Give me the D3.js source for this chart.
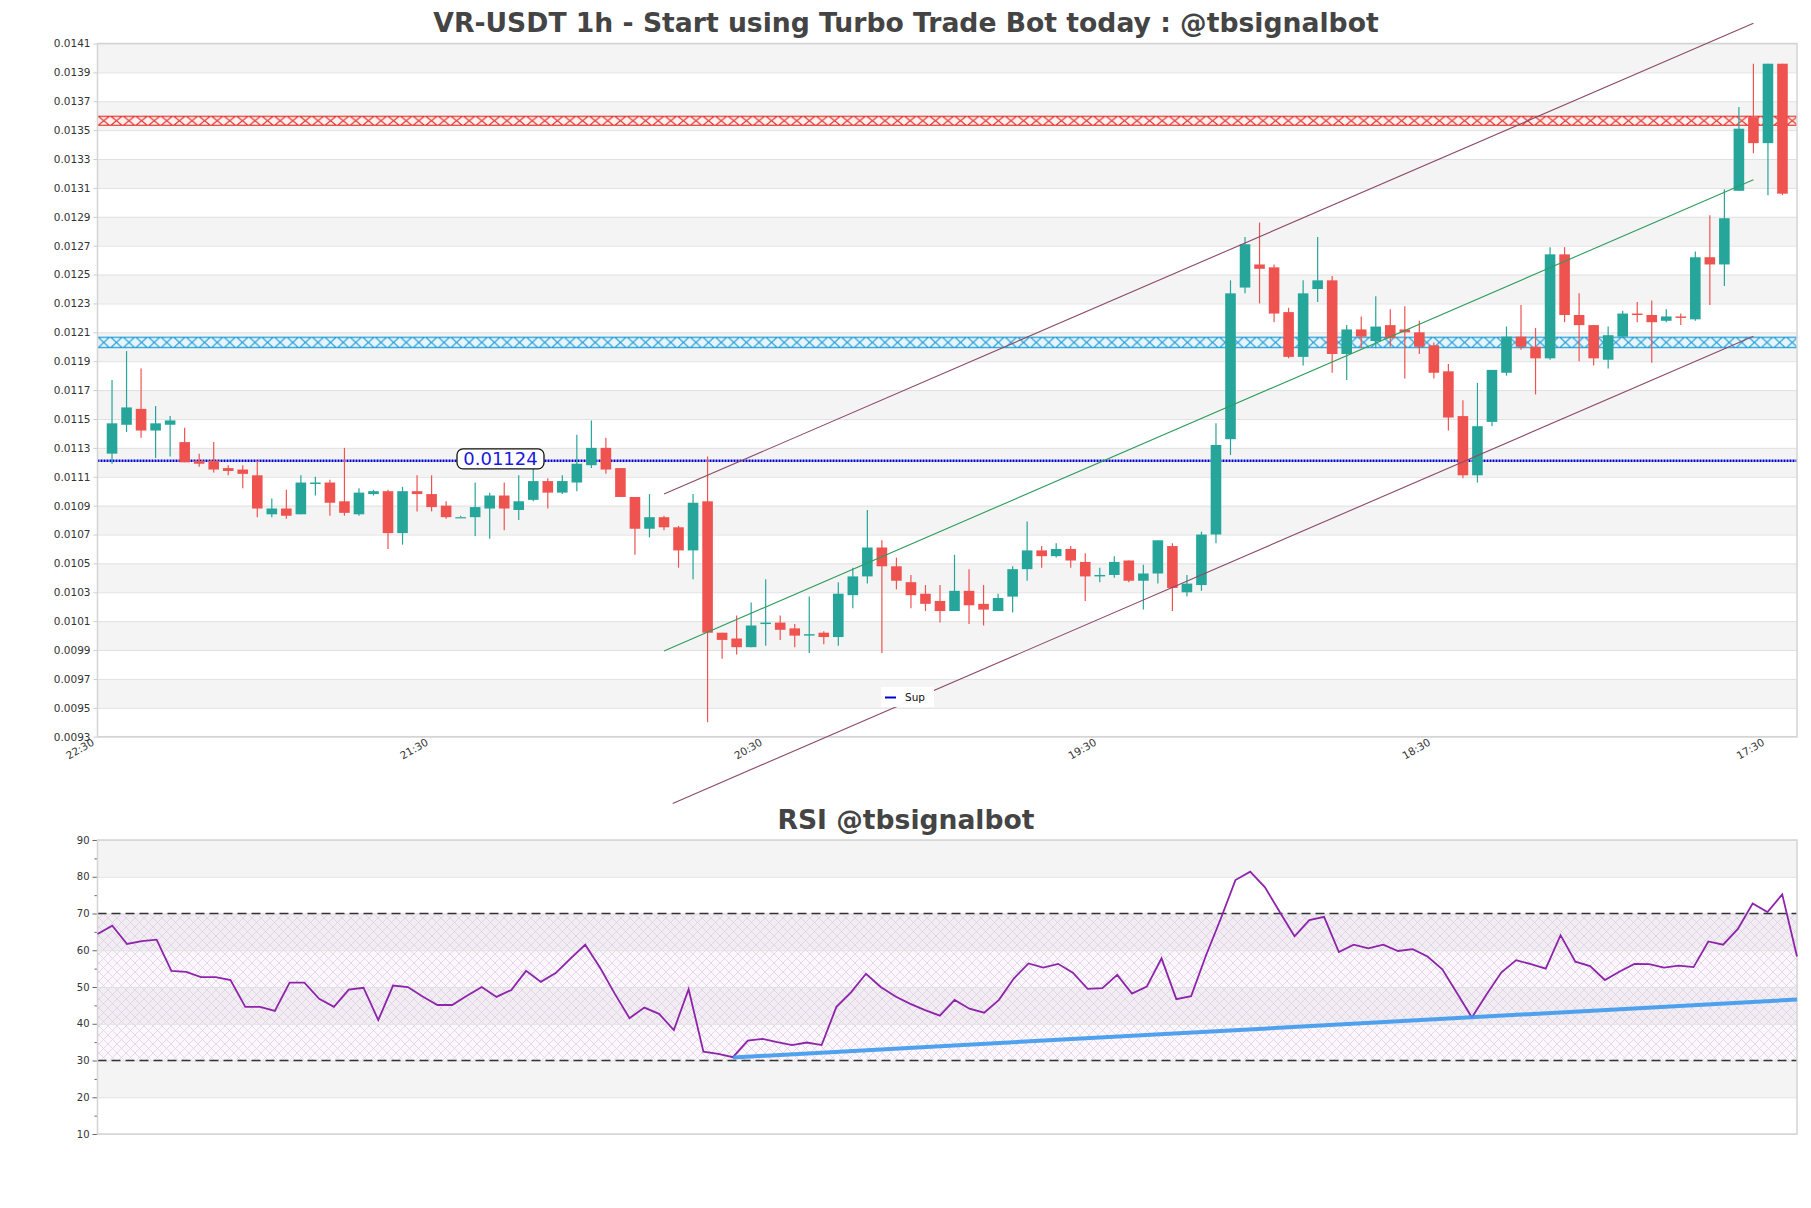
<!DOCTYPE html>
<html>
<head>
<meta charset="utf-8">
<script src="https://cdn.jsdelivr.net/npm/d3@7/dist/d3.min.js"></script>
<style>
    body { margin: 0; background: #fff; }
    svg { display: block; font-family: "DejaVu Sans", sans-serif; }
</style>
</head>
<body>
<svg id="chart"></svg>
<script>
// candles, one entry per hour
const opens = [0.01126,0.01146,0.01157,0.01142,0.01146,0.01134,0.01121,0.01121,0.01116,0.01115,
    0.01111,0.01084,0.01088,0.01084,0.01105,0.01106,0.01093,0.01084,0.01098,0.01100,
    0.01071,0.01100,0.01098,0.01090,0.01082,0.01082,0.01088,0.01097,0.01087,0.01094,
    0.01107,0.01099,0.01106,0.01118,0.01130,0.01116,0.01096,0.01074,0.01082,0.01075,
    0.01059,0.01093,0.01002,0.00998,0.00992,0.01008,0.01009,0.01005,0.01000,0.01002,
    0.00999,0.01028,0.01041,0.01061,0.01048,0.01037,0.01029,0.01024,0.01017,0.01031,
    0.01022,0.01017,0.01027,0.01046,0.01059,0.01055,0.01060,0.01051,0.01041,0.01042,
    0.01052,0.01038,0.01043,0.01062,0.01030,0.01035,0.01070,0.01136,0.01241,0.01257,
    0.01255,0.01224,0.01193,0.01240,0.01246,0.01195,0.01212,0.01204,0.01215,0.01212,
    0.01210,0.01201,0.01183,0.01152,0.01111,0.01148,0.01182,0.01207,0.01200,0.01192,
    0.01264,0.01222,0.01215,0.01191,0.01207,0.01223,0.01222,0.01218,0.01221,0.01219,
    0.01262,0.01257,0.01308,0.01359,0.01341,0.01396]
const highs = [0.01177,0.01197,0.01185,0.01159,0.01152,0.01144,0.01126,0.01134,0.01118,0.01118,
    0.01121,0.01095,0.01101,0.01111,0.01110,0.01108,0.01130,0.01102,0.01101,0.01101,
    0.01103,0.01111,0.01111,0.01093,0.01083,0.01106,0.01099,0.01106,0.01111,0.01119,
    0.01109,0.01111,0.01139,0.01149,0.01137,0.01116,0.01096,0.01098,0.01083,0.01076,
    0.01098,0.01124,0.01002,0.01014,0.01023,0.01039,0.01014,0.01008,0.01027,0.01003,
    0.01037,0.01047,0.01087,0.01066,0.01054,0.01042,0.01035,0.01035,0.01056,0.01046,
    0.01035,0.01029,0.01048,0.01079,0.01062,0.01064,0.01062,0.01057,0.01047,0.01055,
    0.01052,0.01049,0.01066,0.01064,0.01042,0.01072,0.01147,0.01246,0.01276,0.01286,
    0.01257,0.01227,0.01246,0.01276,0.01249,0.01215,0.01221,0.01235,0.01226,0.01228,
    0.01218,0.01203,0.01188,0.01163,0.01175,0.01184,0.01214,0.01229,0.01213,0.01269,
    0.01269,0.01237,0.01215,0.01214,0.01225,0.01231,0.01232,0.01226,0.01223,0.01266,
    0.01291,0.01309,0.01366,0.01396,0.01396,0.01396]
const lows = [0.01119,0.01141,0.01137,0.01123,0.01124,0.01120,0.01117,0.01113,0.01111,0.01102,
    0.01082,0.01082,0.01081,0.01084,0.01097,0.01083,0.01083,0.01083,0.01097,0.01060,
    0.01063,0.01086,0.01086,0.01081,0.01082,0.01069,0.01067,0.01073,0.01080,0.01093,
    0.01088,0.01098,0.01100,0.01116,0.01112,0.01096,0.01056,0.01068,0.01073,0.01047,
    0.01039,0.00940,0.00984,0.00987,0.00992,0.00993,0.00997,0.00992,0.00988,0.00994,
    0.00993,0.01019,0.01036,0.00988,0.01032,0.01019,0.01017,0.01009,0.01017,0.01008,
    0.01007,0.01017,0.01016,0.01038,0.01047,0.01054,0.01047,0.01024,0.01037,0.01040,
    0.01037,0.01018,0.01036,0.01017,0.01027,0.01031,0.01064,0.01125,0.01237,0.01230,
    0.01217,0.01192,0.01187,0.01231,0.01182,0.01177,0.01199,0.01199,0.01200,0.01178,
    0.01195,0.01178,0.01142,0.01109,0.01106,0.01145,0.01180,0.01198,0.01167,0.01191,
    0.01217,0.01190,0.01187,0.01185,0.01206,0.01217,0.01189,0.01217,0.01215,0.01218,
    0.01229,0.01242,0.01308,0.01334,0.01305,0.01305]
const closes = [0.01147,0.01158,0.01142,0.01147,0.01149,0.01120,0.01119,0.01115,0.01114,0.01112,
    0.01088,0.01088,0.01083,0.01106,0.01106,0.01092,0.01085,0.01099,0.01100,0.01071,
    0.01100,0.01098,0.01089,0.01082,0.01082,0.01089,0.01097,0.01088,0.01093,0.01107,
    0.01099,0.01107,0.01119,0.01130,0.01115,0.01096,0.01074,0.01082,0.01075,0.01059,
    0.01092,0.01002,0.00997,0.00992,0.01007,0.01009,0.01004,0.01000,0.01001,0.00999,
    0.01029,0.01041,0.01061,0.01048,0.01038,0.01028,0.01022,0.01017,0.01031,0.01021,
    0.01018,0.01026,0.01046,0.01059,0.01055,0.01060,0.01052,0.01041,0.01042,0.01051,
    0.01038,0.01043,0.01066,0.01033,0.01036,0.01070,0.01132,0.01237,0.01271,0.01254,
    0.01223,0.01193,0.01237,0.01246,0.01195,0.01212,0.01207,0.01214,0.01206,0.01210,
    0.01200,0.01182,0.01151,0.01111,0.01145,0.01184,0.01207,0.01200,0.01192,0.01264,
    0.01222,0.01215,0.01192,0.01208,0.01223,0.01222,0.01217,0.01221,0.01220,0.01262,
    0.01257,0.01289,0.01351,0.01341,0.01396,0.01306]

const rsiValues = [64.4,66.7,61.7,62.5,62.9,54.4,54.1,52.7,52.7,51.9,
    44.6,44.6,43.5,51.2,51.2,46.8,44.6,49.3,49.8,41.0,
    50.4,50.0,47.4,45.1,45.1,47.6,50.0,47.3,49.2,54.4,
    51.4,53.8,57.7,61.5,55.3,48.2,41.5,44.4,42.7,38.3,
    49.4,32.4,31.8,30.9,35.4,35.9,35.0,34.2,34.9,34.2,
    44.6,48.6,53.6,50.0,47.4,45.4,43.7,42.2,46.5,44.1,
    43.0,46.5,52.3,56.4,55.3,56.3,53.9,49.5,49.7,53.3,
    48.2,50.1,57.8,46.7,47.5,58.5,68.5,79.1,81.4,77.1,
    70.4,63.8,68.2,69.1,59.5,61.5,60.5,61.5,59.8,60.3,
    58.3,54.8,48.3,41.7,48.0,54.0,57.3,56.2,55.0,64.1,
    56.9,55.7,51.9,54.2,56.3,56.2,55.3,55.8,55.4,62.4,
    61.5,65.8,72.7,70.4,75.2,58.3]

const priceTicks = [0.0141,0.0139,0.0137,0.0135,0.0133,0.0131,0.0129,0.0127,0.0125,0.0123,0.0121,0.0119,0.0117,
    0.0115,0.0113,0.0111,0.0109,0.0107,0.0105,0.0103,0.0101,0.0099,0.0097,0.0095,0.0093]
const rsiTicks = [90,80,70,60,50,40,30,20,10]
const rsiMinorTicks = [85,75,65,55,45,35,25,15]
const timeTickIdx = [0,23,46,69,92,115]
const timeLabels = ['22:30','21:30','20:30','19:30','18:30','17:30']

// zones, support and trend lines: [candle index, price]
const redZone = [0.01353, 0.01360]
const blueZone = [0.01199, 0.01207]
const supportPrice = 0.01121
const supportLabel = '0.01124'
const channelTop = [[39, 0.01098], [114, 0.01424]]
const channelMid = [[39, 0.009894], [114, 0.013157]]
const channelLow = [[39.6, 0.008838], [114, 0.012073]]
const rsiTrend = [[43, 30.8], [115, 46.6]]

const titleText = 'VR-USDT 1h - Start using Turbo Trade Bot today : @tbsignalbot'
const rsiTitleText = 'RSI @tbsignalbot'

var width = 1811
var height = 1208
let svg = d3.select('#chart')
    .attr('width', width)
    .attr('height', height)

let defs = svg.append('defs')

const main = { left: 97.5, right: 1797, top: 43.5, bottom: 736.7 }
const sub = { left: 97.5, right: 1797, top: 840, bottom: 1134 }

let data = opens.map((o, i) => ({ i: i + 1, o: o, h: highs[i], l: lows[i], c: closes[i] }))

/* Scales */
let xScale = d3.scaleLinear()
    .domain([0, data.length + 1])
    .range([main.left, main.right])

let yScale = d3.scaleLinear()
    .domain([0.0093, 0.0141])
    .range([main.bottom, main.top])

let rsiX = d3.scaleLinear()
    .domain([0, rsiValues.length - 1])
    .range([sub.left, sub.right])

let rsiY = d3.scaleLinear()
    .domain([10, 90])
    .range([sub.bottom, sub.top])

/* Titles, sized to the width they take in the picture */
function fitTitle(text, cx, y, target) {
    let t = svg.append('text')
        .attr('x', cx).attr('y', y)
        .attr('text-anchor', 'middle')
        .attr('font-weight', 'bold')
        .attr('font-size', 24)
        .attr('fill', '#444')
        .text(text)
    let len = t.node().getComputedTextLength()
    t.attr('font-size', 24 * target / len)
}
fitTitle(titleText, 906, 32, 946)
fitTitle(rsiTitleText, 906, 829, 257)

/* Bands */
let bands = svg.append('g')
bands.selectAll('rect')
    .data(priceTicks.slice(0, -1))
    .enter()
        .append('rect')
            .attr('x', main.left)
            .attr('width', main.right - main.left)
            .attr('y', (d) => yScale(d))
            .attr('height', (d) => yScale(d - 0.0002) - yScale(d))
            .attr('fill', (d, i) => i % 2 === 0 ? '#f4f4f4' : '#ffffff')

/* Grid */
svg.append('g')
    .attr('transform', 'translate(' + main.left + ',0)')
    .call(d3.axisLeft(yScale).tickValues(priceTicks).tickSize(-(main.right - main.left)).tickFormat(''))
    .call(g => g.select('.domain').remove())
    .call(g => g.selectAll('line').attr('stroke', '#e1e1e1'))

/* Zones */
function zonePattern(id, zone, stroke, fill) {
    let y0 = yScale(zone[1])
    let h = yScale(zone[0]) - y0
    let w = 12.6
    let p = defs.append('pattern')
        .attr('id', id)
        .attr('patternUnits', 'userSpaceOnUse')
        .attr('x', main.left).attr('y', y0)
        .attr('width', w).attr('height', h)
    p.append('rect').attr('width', w).attr('height', h).attr('fill', fill)
    p.append('path')
        .attr('d', 'M0,0L' + w + ',' + h + 'M0,' + h + 'L' + w + ',0M0,0.5H' + w + 'M0,' + (h - 0.5) + 'H' + w)
        .attr('stroke', stroke)
        .attr('stroke-width', 1.2)
        .attr('fill', 'none')
    svg.append('rect')
        .attr('x', main.left)
        .attr('width', main.right - main.left)
        .attr('y', y0)
        .attr('height', h)
        .attr('fill', 'url(#' + id + ')')
}
zonePattern('redHatch', redZone, '#e3302a', '#fdefed')
zonePattern('blueHatch', blueZone, '#1f9bd6', '#e6f5fc')

/* Support line */
svg.append('line')
    .attr('x1', main.left).attr('x2', main.right)
    .attr('y1', yScale(supportPrice)).attr('y2', yScale(supportPrice))
    .attr('stroke', '#0000cc')
    .attr('stroke-width', 2.5)
    .attr('stroke-dasharray', '2,1')

/* Axes */
let yAxis = svg.append('g')
    .attr('transform', 'translate(' + main.left + ',0)')
    .call(d3.axisLeft(yScale).tickValues(priceTicks).tickSize(4).tickFormat(d3.format('.4f')))
yAxis.select('.domain').remove()
yAxis.selectAll('line').attr('stroke', '#cccccc')
yAxis.selectAll('text').attr('font-size', 10.5).attr('fill', '#333').attr('font-family', 'DejaVu Sans')

let xAxis = svg.append('g')
    .attr('transform', 'translate(0,' + main.bottom + ')')
    .call(d3.axisBottom(xScale).tickValues(timeTickIdx).tickSize(0).tickFormat((d, i) => timeLabels[i]))
xAxis.select('.domain').remove()
xAxis.selectAll('text')
    .attr('font-size', 10.5)
    .attr('font-family', 'DejaVu Sans')
    .attr('fill', '#333')
    .attr('text-anchor', 'end')
    .attr('y', 0)
    .attr('dy', '0.75em')
    .attr('transform', 'translate(-7,1) rotate(-30)')

/* Frame */
svg.append('rect')
    .attr('x', main.left).attr('y', main.top)
    .attr('width', main.right - main.left).attr('height', main.bottom - main.top)
    .attr('fill', 'none')
    .attr('stroke', '#d4d4d4')
    .attr('stroke-width', 1.5)

/* Candles */
let colorOf = (d) => d.c >= d.o ? '#26a69a' : '#ef5350'
let candles = svg.append('g')
    .selectAll('g')
    .data(data)
    .enter()
        .append('g')

candles.append('line')
    .attr('x1', (d) => xScale(d.i)).attr('x2', (d) => xScale(d.i))
    .attr('y1', (d) => yScale(d.h)).attr('y2', (d) => yScale(d.l))
    .attr('stroke', colorOf)
    .attr('stroke-width', 1.2)

candles.append('rect')
    .attr('x', (d) => xScale(d.i) - 5.3)
    .attr('width', 10.6)
    .attr('y', (d) => yScale(Math.max(d.o, d.c)))
    .attr('height', (d) => Math.max(1.2, Math.abs(yScale(d.o) - yScale(d.c))))
    .attr('fill', colorOf)

/* Channel */
let priceLine = d3.line()
    .x((d) => xScale(d[0]))
    .y((d) => yScale(d[1]))

svg.append('path').attr('d', priceLine(channelTop)).attr('stroke', '#8c4a6a').attr('stroke-width', 1.1).attr('fill', 'none')
svg.append('path').attr('d', priceLine(channelLow)).attr('stroke', '#8c4a6a').attr('stroke-width', 1.1).attr('fill', 'none')
svg.append('path').attr('d', priceLine(channelMid)).attr('stroke', '#2e9d5c').attr('stroke-width', 1.1).attr('fill', 'none')

/* Support label */
let sy = yScale(supportPrice)
svg.append('rect')
    .attr('x', 457).attr('y', sy - 12)
    .attr('width', 87).attr('height', 20)
    .attr('rx', 6)
    .attr('fill', '#fff')
    .attr('stroke', '#111')
    .attr('stroke-width', 1.3)
svg.append('text')
    .attr('x', 500.5).attr('y', sy + 4)
    .attr('text-anchor', 'middle')
    .attr('font-size', 18)
    .attr('fill', '#1a1adc')
    .text(supportLabel)

/* Legend */
svg.append('rect')
    .attr('x', 881).attr('y', 687)
    .attr('width', 53).attr('height', 20)
    .attr('fill', '#fff')
    .attr('opacity', 0.95)
svg.append('line')
    .attr('x1', 885).attr('x2', 896)
    .attr('y1', 697.5).attr('y2', 697.5)
    .attr('stroke', '#0000cc')
    .attr('stroke-width', 2)
svg.append('text')
    .attr('x', 905).attr('y', 701)
    .attr('font-size', 10.5)
    .attr('fill', '#111')
    .text('Sup')

/* RSI panel */
svg.append('g')
    .selectAll('rect')
    .data(rsiTicks.slice(0, -1))
    .enter()
        .append('rect')
            .attr('x', sub.left)
            .attr('width', sub.right - sub.left)
            .attr('y', (d) => rsiY(d))
            .attr('height', (d) => rsiY(d - 10) - rsiY(d))
            .attr('fill', (d, i) => i % 2 === 0 ? '#f4f4f4' : '#ffffff')

let hatch = defs.append('pattern')
    .attr('id', 'rsiHatch')
    .attr('patternUnits', 'userSpaceOnUse')
    .attr('width', 9).attr('height', 9)
hatch.append('rect').attr('width', 9).attr('height', 9).attr('fill', 'rgba(170,90,190,0.05)')
hatch.append('path')
    .attr('d', 'M0,0L9,9M9,0L0,9')
    .attr('stroke', '#d9cbe1')
    .attr('stroke-width', 0.7)

svg.append('rect')
    .attr('x', sub.left).attr('width', sub.right - sub.left)
    .attr('y', rsiY(70)).attr('height', rsiY(30) - rsiY(70))
    .attr('fill', 'url(#rsiHatch)')

svg.append('g')
    .attr('transform', 'translate(' + sub.left + ',0)')
    .call(d3.axisLeft(rsiY).tickValues(rsiTicks).tickSize(-(sub.right - sub.left)).tickFormat(''))
    .call(g => g.select('.domain').remove())
    .call(g => g.selectAll('line').attr('stroke', '#e1e1e1'))

svg.append('g')
    .selectAll('line')
    .data([70, 30])
    .enter()
        .append('line')
            .attr('x1', sub.left).attr('x2', sub.right)
            .attr('y1', (d) => rsiY(d)).attr('y2', (d) => rsiY(d))
            .attr('stroke', '#333')
            .attr('stroke-width', 1.3)
            .attr('stroke-dasharray', '9,5')

let rsiAxis = svg.append('g')
    .attr('transform', 'translate(' + sub.left + ',0)')
    .call(d3.axisLeft(rsiY).tickValues(rsiTicks).tickSize(5))
rsiAxis.select('.domain').remove()
rsiAxis.selectAll('line').attr('stroke', '#666')
rsiAxis.selectAll('text').attr('font-size', 10).attr('fill', '#333').attr('font-family', 'DejaVu Sans')

let rsiMinor = svg.append('g')
    .attr('transform', 'translate(' + sub.left + ',0)')
    .call(d3.axisLeft(rsiY).tickValues(rsiMinorTicks).tickSize(3).tickFormat(''))
rsiMinor.select('.domain').remove()
rsiMinor.selectAll('line').attr('stroke', '#666')

svg.append('rect')
    .attr('x', sub.left).attr('y', sub.top)
    .attr('width', sub.right - sub.left).attr('height', sub.bottom - sub.top)
    .attr('fill', 'none')
    .attr('stroke', '#d4d4d4')
    .attr('stroke-width', 1.5)

let rsiLine = d3.line()
    .x((d, i) => rsiX(i))
    .y((d) => rsiY(d))

svg.append('path')
    .attr('d', rsiLine(rsiValues))
    .attr('fill', 'none')
    .attr('stroke', '#8e24aa')
    .attr('stroke-width', 1.8)

svg.append('path')
    .attr('d', d3.line().x((d) => rsiX(d[0])).y((d) => rsiY(d[1]))(rsiTrend))
    .attr('fill', 'none')
    .attr('stroke', '#3d98ec')
    .attr('stroke-width', 4)
    .attr('opacity', 0.9)
</script>
</body>
</html>
